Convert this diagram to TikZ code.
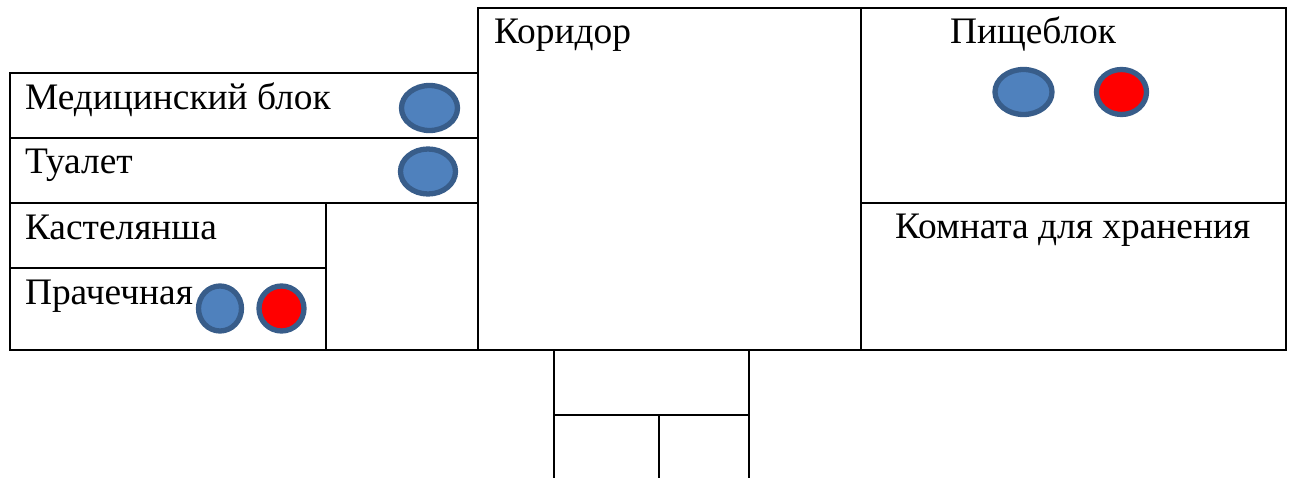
\documentclass[tikz,border=0pt]{standalone}
\usepackage{fontspec}
\setmainfont{Liberation Serif}
\tikzset{
  wall/.style={draw=black,line width=2pt,line cap=rect},
  room/.style={anchor=base west,inner sep=0pt,outer sep=0pt,font=\fontsize{37.4}{42}\selectfont,text=black},
  cold/.style={draw=strokeblue,line width=5.3pt,fill=fillblue},
  hot/.style={draw=strokeblue,line width=5.3pt,fill=red}
}
\definecolor{strokeblue}{HTML}{385D8A}
\definecolor{fillblue}{HTML}{4F81BD}
\begin{document}
\begin{tikzpicture}[x=1pt,y=-1pt]
\useasboundingbox[fill=white] (0,0) rectangle (1291,478);
% outer walls and partitions
\draw[wall] (10,73) rectangle (478,350);
\draw[wall] (478,8) rectangle (861,350);
\draw[wall] (861,8) rectangle (1286,350);
\draw[wall] (10,138) -- (478,138);
\draw[wall] (10,203) -- (478,203);
\draw[wall] (10,268) -- (326,268);
\draw[wall] (326,203) -- (326,350);
\draw[wall] (861,203) -- (1286,203);
\begin{scope}
\clip (0,0) rectangle (1291,478);
\draw[wall] (554,350) -- (554,480);
\draw[wall] (749,350) -- (749,480);
\draw[wall] (554,415) -- (749,415);
\draw[wall] (659,415) -- (659,480);
\end{scope}
% labels
\node[room] (med) at (25,109.5) {Медицинский блок};
\node[room] (wc) at (25,174) {Туалет};
\node[room] (kast) at (25,239.5) {Кастелянша};
\node[room] (prach) at (25,304.5) {Прачечная};
\node[room] (kor) at (494,44) {Коридор};
\node[room] (pisch) at (950,44) {Пищеблок};
\node[room] (komn) at (895,238.5) {Комната для хранения};
% fixtures
\path[cold] (429.5,108) ellipse [x radius=28,y radius=22.5];
\path[cold] (428,171.5) ellipse [x radius=27.5,y radius=22.5];
\path[cold] (220,308.5) ellipse [x radius=21.5,y radius=22.5];
\path[hot] (281.5,308.5) ellipse [x radius=22.5,y radius=22.5];
\path[cold] (1023.5,92) ellipse [x radius=28.5,y radius=22.5];
\path[hot] (1121.5,92) ellipse [x radius=25,y radius=22.5];
\end{tikzpicture}
\end{document}
